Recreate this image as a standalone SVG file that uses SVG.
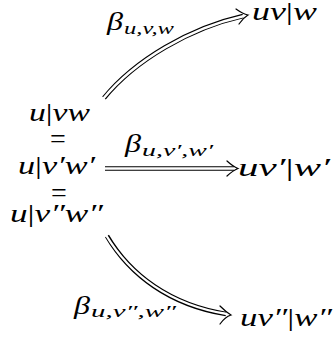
<svg xmlns="http://www.w3.org/2000/svg" width="333" height="338" viewBox="0 0 333 338">
<style>
.t{font-family:"Liberation Serif","DejaVu Serif",serif;font-style:italic;font-size:26px;fill:#000}
.s{font-family:"Liberation Serif","DejaVu Serif",serif;font-style:italic;font-size:17px;fill:#000}
.r{font-style:normal}
.eq{font-family:"Liberation Serif","DejaVu Serif",serif;font-size:28px;fill:#000}
.dbo{fill:none;stroke:#000;stroke-width:4.6}
.dbi{fill:none;stroke:#fff;stroke-width:2.4}
.hd{fill:none;stroke:#000;stroke-width:1.2;stroke-linecap:round}
</style>
<rect width="333" height="338" fill="#fff"/>
<g id="connectors">
  <g id="e-top">
    <path class="dbo" d="M104,98 C135,60 190,28 243,16"/>
    <path class="dbi" d="M103,99 C135,60 190,28 244,16"/>
    <path class="hd" d="M236,9 Q243,14 248,15 Q243,18 239,24"/>
  </g>
  <g id="e-mid">
    <path class="dbo" d="M105,168.5 H234"/>
    <path class="dbi" d="M104,168.5 H235"/>
    <path class="hd" d="M227,161 Q233,166.5 238,168.5 Q233,170.5 227,176"/>
  </g>
  <g id="e-bot">
    <path class="dbo" d="M107,236 C130,275 170,305 226,314"/>
    <path class="dbi" d="M106,235 C130,275 170,305 227,314"/>
    <path class="hd" d="M220,306 Q226,312 231,315 Q225,317 220,324"/>
  </g>
  <g id="equals">
    <text class="eq" x="58" y="148" text-anchor="middle">=</text>
    <text class="eq" x="59" y="201.5" text-anchor="middle">=</text>
  </g>
</g>
<g id="n-uvw"><text class="t" x="29" y="120.5" textLength="61" lengthAdjust="spacingAndGlyphs">u<tspan class="r">|</tspan>vw</text></g>
<g id="n-uv1w1"><text class="t" x="18" y="174" textLength="77" lengthAdjust="spacingAndGlyphs">u<tspan class="r">|</tspan>v′w′</text></g>
<g id="n-uv2w2"><text class="t" x="10" y="221.5" textLength="93" lengthAdjust="spacingAndGlyphs">u<tspan class="r">|</tspan>v″w″</text></g>
<g id="n-uv-w"><text class="t" x="252" y="20" textLength="65" lengthAdjust="spacingAndGlyphs">uv<tspan class="r">|</tspan>w</text></g>
<g id="n-uv1-w1"><text class="t" x="238" y="175.5" textLength="92" lengthAdjust="spacingAndGlyphs">uv′<tspan class="r">|</tspan>w′</text></g>
<g id="n-uv2-w2"><text class="t" x="240" y="326" textLength="92" lengthAdjust="spacingAndGlyphs">uv″<tspan class="r">|</tspan>w″</text></g>
<g id="l-top"><text class="t" x="107" y="30" textLength="16" lengthAdjust="spacingAndGlyphs">β</text><text class="s" x="124" y="33.5" textLength="50" lengthAdjust="spacingAndGlyphs">u,v,w</text></g>
<g id="l-mid"><text class="t" x="125" y="152" textLength="16" lengthAdjust="spacingAndGlyphs">β</text><text class="s" x="142" y="155.5" textLength="71" lengthAdjust="spacingAndGlyphs">u,v′,w′</text></g>
<g id="l-bot"><text class="t" x="74" y="314" textLength="16" lengthAdjust="spacingAndGlyphs">β</text><text class="s" x="91" y="317" textLength="85" lengthAdjust="spacingAndGlyphs">u,v″,w″</text></g>
</svg>
